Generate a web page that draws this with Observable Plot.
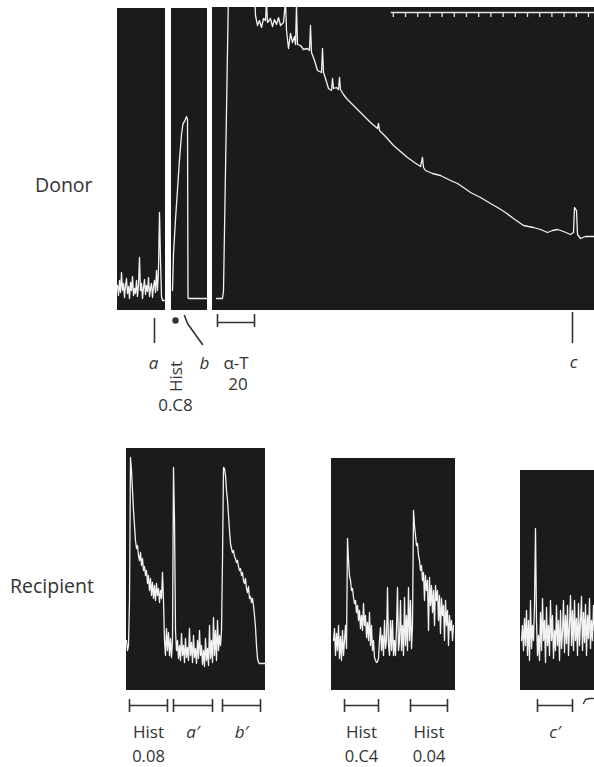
<!DOCTYPE html>
<html>
<head>
<meta charset="utf-8">
<script src="https://cdn.jsdelivr.net/npm/d3@7"></script>
<script src="https://cdn.jsdelivr.net/npm/@observablehq/plot@0.6"></script>
<style>
  html, body { margin: 0; padding: 0; background: #fff; }
  #page { position: relative; width: 594px; height: 767px; overflow: hidden; font-family: "Open Sans", sans-serif; color: #333; }
  .panel { position: absolute; }
  .panel svg { display: block; overflow: visible; max-width: none; }
  .side { position: absolute; font-size: 19.5px; line-height: 20px; white-space: nowrap; color: #333; }
</style>
</head>
<body>
<div id="page"></div>
<script>
// ---------------- DATA ----------------
// time in s, pen deflection in mm above the panel baseline
// Donor, first strip (baseline before Hist), sampled every 2.5 s
const donorA_start = 0, donorA_step = 2.5;
const donorA = [25,15,30,18,38,20,27,13,25,32,17,24,12,28,20,34,15,22,17,30,14,26,53,20,27,12,23,31,16,25,19,33,14,22,27,13,24,30,18,40,20,42,98,50,14,10,10,10,10];
// Donor, second strip (Hist 0.08)
const donorB_t = [2.5,5,10,15,20,25,28.75,32.5,37.5,40,41.25,42.5,90];
const donorB_v = [20,57,91,121,151,176,187,189,194,191,13,12,12];
// Donor, third strip (alpha-T 20 then slow decline)
const donorC_t = [10,25,27.5,40,105,107.5,112.5,117.5,122.5,127.5,132.5,135,137.5,145,150,155,160,165,170,177.5,182.5,185,190,195,200,205,207.5,210,212.5,220,227.5,237.5,242.5,245,247.5,255,262.5,272.5,275,277.5,282.5,290,297.5,300,302.5,310,315,317.5,320,327.5,335,342.5,370,395,412.5,415,417.5,432.5,452.5,470,487.5,505,520,525,527.5,532.5,550,570,595,612.5,627.5,645,670,695,712.5,732.5,752.5,777.5,790,802.5,820,837.5,850,862.5,877.5,895,902.5,905,910,912.5,920,932.5,955];
const donorC_v = [12,12,20,320,320,295,285,290,283,292,290,310,288,292,284,291,286,293,285,288,310,280,262,277,268,274,266,305,266,265,261,262,260,285,258,250,240,238,262,238,232,222,220,232,222,223,221,233,221,216,212,209,198,188,182,187,180,174,165,159,153,148,144,153,143,140,137,135,130,127,123,118,113,107,103,98,92,85,84,83,81,78,80,81,79,76,78,103,100,76,72,74,74];
// time marker (30 s) on the donor record
const timeMarks = [452,482.5,513,543.5,574,604.5,635,665.5,696,726.5,757,787.5,818,848.5,879,909.5,940];
const timeMarkSpan = [447, 955];

// Recipient strips, sampled every 2.5 s
const recipA_start = 0, recipA_step = 2.5;
const recipA = [50,40,45,90,233,220,200,180,165,150,142,145,135,130,138,125,132,120,124,115,120,107,115,100,112,95,108,92,105,90,107,95,102,88,100,92,118,90,50,35,62,40,58,35,52,33,50,223,170,60,40,50,32,45,30,57,35,45,28,52,33,43,30,62,35,48,28,55,33,42,27,50,32,60,35,45,26,40,24,52,30,42,25,65,32,50,28,73,35,60,30,70,40,55,45,60,130,223,222,215,200,190,175,160,147,142,138,140,134,132,128,130,124,120,122,115,118,110,107,112,102,98,104,92,94,88,92,85,75,63,45,32,28,27,27,27,27,27,27,27];
const recipB_start = 5, recipB_step = 2.5;
const recipB = [50,62,35,57,40,65,32,54,30,60,35,50,65,42,152,130,115,110,100,102,93,87,90,78,85,70,80,62,75,60,87,65,75,53,68,50,78,45,65,40,50,33,30,28,29,32,50,63,40,55,35,70,42,50,103,45,35,70,40,70,35,50,35,62,103,40,50,90,40,65,35,93,45,75,40,103,50,90,42,65,180,165,155,145,147,135,130,120,125,110,118,90,115,100,110,60,113,85,105,78,100,65,105,90,100,70,95,57,92,75,85,50,90,65,80,45,75,60,70,50,65];
const recipC_start = 2.5, recipC_step = 2.5;
const recipC = [50,65,40,72,45,80,35,70,30,90,42,65,50,85,162,70,35,55,30,78,40,92,50,70,28,83,45,65,35,90,50,75,32,60,40,85,45,70,30,80,42,58,90,38,75,47,85,35,65,95,45,80,40,90,50,72,35,87,45,68,94,40,78,48,86,35,75,52,92,42,70,50,85,60];

// Donor events
const donorEventA = [{t: 92.5, label: "a"}];
const donorHist = [{t: 10, label: "Hist", dose: "0.C8"}];
const donorEventB = {label: "b", t: 82.5, pointer_t: [32.5, 40, 77.5]};
const donorAT = [{start: 12.5, end: 105, label: "α-T", dose: "20"}];
const donorEventC = [{t: 900, label: "c"}];

// Recipient drug / injection bars
const recipA_bars = [
  {start: 7.5, end: 102.5, label: "Hist", dose: "0.08", italic: false},
  {start: 117.5, end: 215, label: "a′", dose: "", italic: true},
  {start: 240, end: 335, label: "b′", dose: "", italic: true}
];
const recipB_bars = [
  {start: 32.5, end: 117.5, label: "Hist", dose: "0.C4", italic: false},
  {start: 197.5, end: 290, label: "Hist", dose: "0.04", italic: false}
];
const recipC_bars = [
  {start: 42.5, end: 130, label: "c′", dose: "", italic: true}
];
const recipC_fragment_t = [157.5, 162.5, 172.5, 182.5];

// ---------------- LAYOUT / STYLE ----------------
const SEC_PER_PX = 2.5;
const PAPER = "#1b1b1b", PEN = "#f2f2f2", INK = "#333";
const FONT = "Open Sans";
const layout = {
  d1: {left: 117, top: 8, w: 48, h: 302, extra: 102},
  d2: {left: 171, top: 8, w: 36, h: 302, extra: 102},
  d3: {left: 212, top: 7, w: 382, h: 303, extra: 102},
  rA: {left: 126, top: 448, w: 139, h: 242, extra: 77},
  rB: {left: 331, top: 458, w: 124, h: 232, extra: 77},
  rC: {left: 520, top: 470, w: 74, h: 220, extra: 77}
};
// vertical offsets (mm below baseline) for annotations
const BAR_Y = -15, BAR_T1 = -9, BAR_T2 = -22, LABEL_Y = -47, DOSE_Y = -71;

const page = document.getElementById("page");

function sampled(values, start, step) {
  return values.map((v, i) => ({t: start + i * step, v}));
}
function paired(ts, vs) {
  return ts.map((t, i) => ({t, v: vs[i]}));
}

function panel(key, marks) {
  const L = layout[key];
  const T = L.w * SEC_PER_PX;
  const svg = Plot.plot({
    width: L.w, height: L.h + L.extra,
    marginTop: 0, marginRight: 0, marginBottom: 0, marginLeft: 0,
    x: {domain: [0, T], axis: null},
    y: {domain: [-L.extra, L.h], axis: null},
    style: {background: "none", overflow: "visible", fontFamily: FONT, fontSize: "17px", color: INK},
    marks: [
      Plot.rect([0], {x1: 0, x2: T, y1: 0, y2: L.h, fill: PAPER}),
      ...marks
    ]
  });
  const div = document.createElement("div");
  div.className = "panel";
  div.style.left = L.left + "px";
  div.style.top = L.top + "px";
  div.style.width = L.w + "px";
  div.appendChild(svg);
  page.appendChild(div);
}

function trace(data) {
  return Plot.line(data, {x: "t", y: "v", stroke: PEN, strokeWidth: 1.3, clip: true, strokeLinejoin: "round"});
}

function barMarks(bars) {
  return [
    Plot.ruleY(bars, {x1: "start", x2: "end", y: BAR_Y, stroke: INK, strokeWidth: 1.6}),
    Plot.ruleX(bars, {x: "start", y1: BAR_T1, y2: BAR_T2, stroke: INK, strokeWidth: 1.6}),
    Plot.ruleX(bars, {x: "end", y1: BAR_T1, y2: BAR_T2, stroke: INK, strokeWidth: 1.6}),
    Plot.text(bars.filter(d => !d.italic), {x: d => (d.start + d.end) / 2, y: LABEL_Y, text: "label", lineAnchor: "bottom", fontSize: 17, fill: INK}),
    Plot.text(bars.filter(d => d.italic), {x: d => (d.start + d.end) / 2, y: LABEL_Y, text: "label", lineAnchor: "bottom", fontSize: 17, fontStyle: "italic", fill: INK}),
    Plot.text(bars.filter(d => d.dose), {x: d => (d.start + d.end) / 2, y: DOSE_Y, text: "dose", lineAnchor: "bottom", fontSize: 16.5, fill: INK})
  ];
}

// ---- Donor strips ----
panel("d1", [
  trace(sampled(donorA, donorA_start, donorA_step)),
  Plot.ruleX(donorEventA, {x: "t", y1: -8, y2: -33, stroke: INK, strokeWidth: 1.6}),
  Plot.text(donorEventA, {x: d => d.t - 2.5, y: -58, text: "label", fontStyle: "italic", lineAnchor: "bottom", fontSize: 17, fill: INK})
]);

panel("d2", [
  trace(paired(donorB_t, donorB_v)),
  Plot.dot(donorHist, {x: "t", y: -10, r: 3.2, fill: INK, stroke: "none"}),
  Plot.text(donorHist, {x: d => d.t + 2.5, y: -66, text: "label", rotate: -90, fontSize: 17, fill: INK}),
  Plot.text(donorHist, {x: "t", y: -100, text: "dose", lineAnchor: "bottom", fontSize: 17, fill: INK}),
  Plot.line(paired(donorEventB.pointer_t, [-5, -13, -34]), {x: "t", y: "v", stroke: INK, strokeWidth: 1.6}),
  Plot.text([donorEventB], {x: "t", y: -58, text: "label", fontStyle: "italic", lineAnchor: "bottom", fontSize: 17, fill: INK})
]);

panel("d3", [
  trace(paired(donorC_t, donorC_v)),
  Plot.ruleY([0], {x1: timeMarkSpan[0], x2: timeMarkSpan[1], y: 298, stroke: "#e6e6e6", strokeWidth: 1.3}),
  Plot.ruleX(timeMarks, {x: d => d, y1: 298, y2: 293, stroke: "#e6e6e6", strokeWidth: 1.3}),
  Plot.ruleY(donorAT, {x1: "start", x2: "end", y: -12, stroke: INK, strokeWidth: 1.6}),
  Plot.ruleX(donorAT, {x: "start", y1: -4, y2: -17, stroke: INK, strokeWidth: 1.6}),
  Plot.ruleX(donorAT, {x: "end", y1: -4, y2: -17, stroke: INK, strokeWidth: 1.6}),
  Plot.text(donorAT, {x: d => (d.start + d.end) / 2, y: -58, text: "label", lineAnchor: "bottom", fontSize: 17, fill: INK}),
  Plot.text(donorAT, {x: d => (d.start + d.end) / 2 + 5, y: -79, text: "dose", lineAnchor: "bottom", fontSize: 17, fill: INK}),
  Plot.ruleX(donorEventC, {x: "t", y1: -2, y2: -33, stroke: INK, strokeWidth: 1.6}),
  Plot.text(donorEventC, {x: d => d.t + 2.5, y: -57, text: "label", fontStyle: "italic", lineAnchor: "bottom", fontSize: 17, fill: INK})
]);

// ---- Recipient strips ----
panel("rA", [
  trace(sampled(recipA, recipA_start, recipA_step)),
  ...barMarks(recipA_bars)
]);
panel("rB", [
  trace(sampled(recipB, recipB_start, recipB_step)),
  ...barMarks(recipB_bars)
]);
panel("rC", [
  trace(sampled(recipC, recipC_start, recipC_step)),
  ...barMarks(recipC_bars),
  Plot.line(paired(recipC_fragment_t, [-13, -9, -8, -8]), {x: "t", y: "v", stroke: INK, strokeWidth: 1.4})
]);

// ---- Side labels ----
function side(text, left, baseline) {
  const d = document.createElement("div");
  d.className = "side";
  d.textContent = text;
  d.style.left = left + "px";
  d.style.top = (baseline - 17.6) + "px";
  page.appendChild(d);
}
side("Donor", 35, 193);
side("Recipient", 10, 594);
</script>
</body>
</html>
